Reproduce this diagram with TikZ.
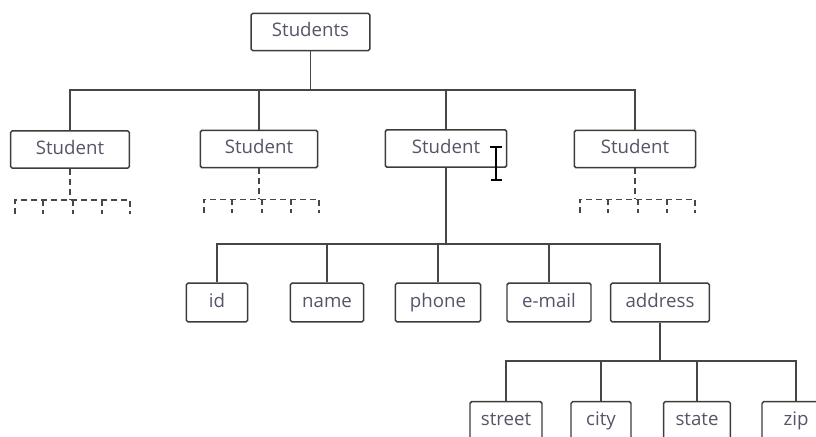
\documentclass[tikz,border=0pt]{standalone}
\usepackage{fontspec}
\setmainfont{Open Sans}
\usetikzlibrary{calc}
\begin{document}
\begin{tikzpicture}[x=0.75pt,y=-0.75pt,
  wire/.style={draw={rgb,255:red,70;green,70;blue,70},line width=1.1pt},
  stub/.style={wire,dash pattern=on 4.5pt off 3pt},
  box/.style={draw={rgb,255:red,60;green,60;blue,60},line width=1.1pt,
    rounded corners=1.2pt,fill=white,inner sep=0pt,
    minimum height=28pt,text height=10pt,text depth=3pt,
    text={rgb,255:red,85;green,85;blue,105},
    font=\fontsize{14}{16}\selectfont},
  cursor/.style={draw=black,line width=1pt}]
\useasboundingbox (0,0) rectangle (816,436);
\begin{scope}
\clip (0,0) rectangle (816,436);

% root
\node[box,minimum width=89pt] (root) at (310.5,32) {Students};

% student records
\node[box,minimum width=89pt] (s1) at (70,149.5) {Student};
\node[box,minimum width=88pt] (s2) at (259,149) {Student};
\node[box,minimum width=91pt] (s3) at (446,148.5) {Student\hspace{10pt}};
\node[box,minimum width=91pt] (s4) at (635,149) {Student};

% fields of one student
\node[box,minimum width=46pt,minimum height=29pt] (id) at (217,302.5) {id};
\node[box,minimum width=55pt,minimum height=29pt] (name) at (327,302.5) {name};
\node[box,minimum width=64pt,minimum height=29pt] (phone) at (438,302.5) {phone};
\node[box,minimum width=63pt,minimum height=29pt] (email) at (549,302.5) {e-mail};
\node[box,minimum width=74pt,minimum height=29pt] (address) at (660,302.5) {address};

% parts of the address
\node[box,minimum width=54pt,minimum height=29pt] (street) at (506,421) {street};
\node[box,minimum width=45pt,minimum height=29pt] (city) at (601,421) {city};
\node[box,minimum width=50pt,minimum height=29pt] (state) at (697,421) {state};
\node[box,minimum width=51pt,minimum height=29pt] (zip) at (796,421) {zip};

% bus points
\coordinate (bus1) at (310.5,90);
\coordinate (bus2) at (446,244);
\coordinate (bus3) at (660,361);

% Students -> Student
\draw[wire] (root.south) -- (bus1);
\draw[wire] (s1.north) |- (bus1) -| (s4.north);
\draw[wire] (s2.north) -- (s2.north |- bus1);
\draw[wire] (s3.north) -- (s3.north |- bus1);

% Student -> fields
\draw[wire] (s3.south) -- (bus2);
\draw[wire] (id.north) |- (bus2) -| (address.north);
\draw[wire] (name.north) -- (name.north |- bus2);
\draw[wire] (phone.north) -- (phone.north |- bus2);
\draw[wire] (email.north) -- (email.north |- bus2);

% address -> parts
\draw[wire] (address.south) -- (bus3);
\draw[wire] (street.north) |- (bus3) -| (zip.north);
\draw[wire] (city.north) -- (city.north |- bus3);
\draw[wire] (state.north) -- (state.north |- bus3);

% collapsed subtrees (dashed)
\foreach \s in {s1,s2,s4}{
  \draw[stub] (\s.south) -- ++(0,31);
  \draw[stub] ($(\s.south)+(-55,45)$) -- ++(0,-14) -- ++(115,0) -- ++(0,14);
  \foreach \dx in {-27,3,32}
    \draw[stub] ($(\s.south)+(\dx,31)$) -- ++(0,14);
}

% text cursor
\draw[cursor] (490,147) -- (502,147) (496,147) -- (496,180) (491,180) -- (502,180);
\end{scope}
\end{tikzpicture}
\end{document}
